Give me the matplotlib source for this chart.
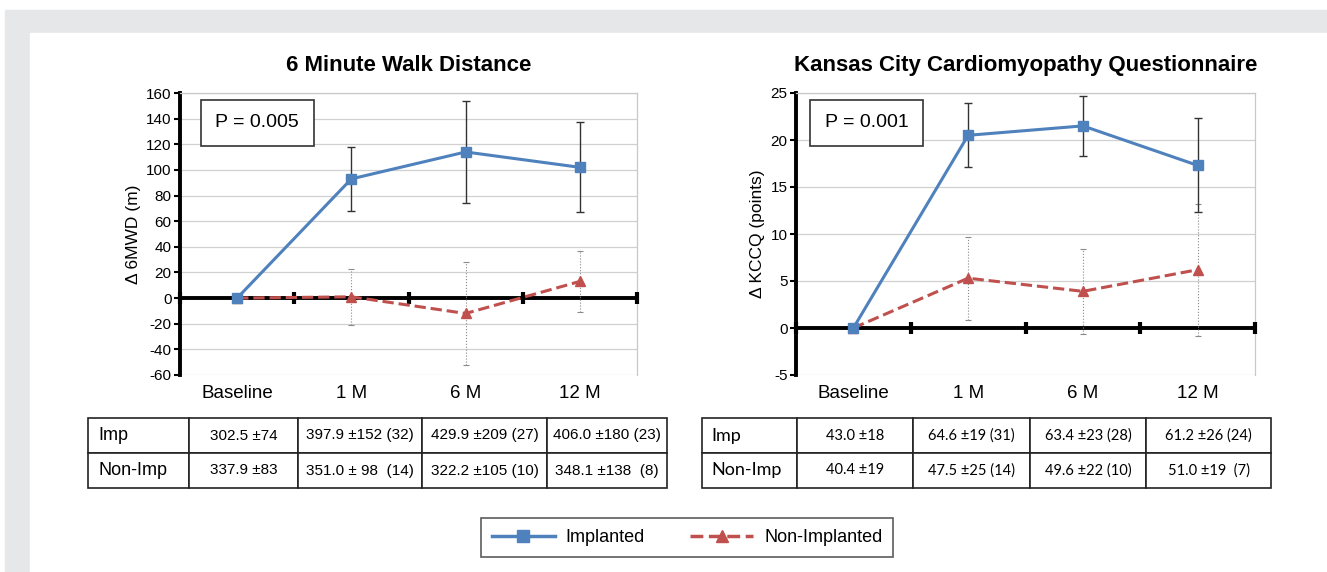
#!/usr/bin/env python3
"""Change in 6MWD and KCCQ, implanted vs non-implanted."""

import matplotlib.pyplot as plt
from matplotlib.patches import Rectangle
from matplotlib.lines import Line2D

plt.rcParams['font.family'] = ['Liberation Sans', 'DejaVu Sans']
plt.rcParams['axes.unicode_minus'] = False

# ---- data -----------------------------------------------------------------
timepoints = ["Baseline", "1 M", "6 M", "12 M"]

walk_imp = [0, 93, 114, 102]
walk_imp_err = [0, 25, 40, 35]
walk_non = [0, 1, -12, 13]
walk_non_err = [0, 22, 40, 24]

kccq_imp = [0, 20.5, 21.5, 17.3]
kccq_imp_err = [0, 3.4, 3.2, 5.0]
kccq_non = [0, 5.3, 3.9, 6.2]
kccq_non_err = [0, 4.4, 4.5, 7.0]

row_labels = ["Imp", "Non-Imp"]
walk_table = [
    ["302.5 ±74", "397.9 ±152 (32)", "429.9 ±209 (27)", "406.0 ±180 (23)"],
    ["337.9 ±83", "351.0 ± 98  (14)", "322.2 ±105 (10)", "348.1 ±138  (8)"],
]
kccq_table = [
    ["43.0 ±18", "64.6 ±19 (31)", "63.4 ±23 (28)", "61.2 ±26 (24)"],
    ["40.4 ±19", "47.5 ±25 (14)", "49.6 ±22 (10)", "51.0 ±19  (7)"],
]

BLUE = "#4f81bd"
RED = "#c0504d"
W, H = 1327, 572


def fbox(x0, y0, x1, y1):
    """pixel box (top-left origin) -> figure rect"""
    return [x0 / W, 1 - y1 / H, (x1 - x0) / W, (y1 - y0) / H]


fig = plt.figure(figsize=(W / 100, H / 100), dpi=100)

# page frame: grey bands on top and left
fig.patches.append(Rectangle((5 / W, 0), 1 - 5 / W, 1 - 10 / H,
                             transform=fig.transFigure, color="#e6e7e8", zorder=-3))
fig.patches.append(Rectangle((30 / W, 0), 1 - 30 / W, 1 - 33 / H,
                             transform=fig.transFigure, color="white", zorder=-2))


def panel(rect, title, ylabel, imp, imp_err, non, non_err, ylim, yticks, ptext, pbox):
    ax = fig.add_axes(rect)
    x = range(len(timepoints))
    ax.errorbar(x, non, yerr=non_err, color=RED, ls="--", lw=2.2, marker="^", ms=7,
                ecolor="#8a8a8a", elinewidth=0.8, capsize=2.5, capthick=0.8, zorder=4)
    for c in ax.containers[-1][2]:
        c.set_linestyle(":")
    ax.errorbar(x, imp, yerr=imp_err, color=BLUE, ls="-", lw=2.2, marker="s", ms=7,
                ecolor="#333333", elinewidth=1.0, capsize=3, capthick=1.0, zorder=5)
    ax.axhline(0, color="black", lw=2.8, zorder=3)
    ax.plot([-0.5, 0.5, 1.5, 2.5, 3.5], [0] * 5, ls="none", marker="|", ms=8,
            mew=3, color="black", zorder=3, clip_on=False)
    ax.set_xlim(-0.5, 3.5)
    ax.set_ylim(*ylim)
    ax.set_yticks(yticks)
    ax.set_xticks(list(x))
    ax.set_xticklabels(timepoints, fontsize=13.5)
    ax.tick_params(axis="x", length=0, pad=7)
    ax.tick_params(axis="y", labelsize=11, length=4, width=1.5, pad=2)
    ax.grid(axis="y", color="#d0d0d0", lw=0.9)
    ax.set_axisbelow(True)
    ax.spines["bottom"].set_visible(False)
    ax.spines["left"].set_linewidth(2.8)
    for s in ("top", "right"):
        ax.spines[s].set_color("#c8c8c8")
        ax.spines[s].set_linewidth(0.9)
    ax.set_ylabel(ylabel, fontsize=12.5, labelpad=4)
    ax.set_title(title, fontsize=16, fontweight="bold", pad=16)
    ax.text(pbox[0], pbox[1], ptext, transform=ax.transAxes, fontsize=14,
            ha="left", va="center", zorder=6,
            bbox=dict(boxstyle="square,pad=0.75", fc="white", ec="#333333", lw=1.2))
    return ax


panel(fbox(180, 93, 637, 375), "6 Minute Walk Distance", "Δ 6MWD (m)",
      walk_imp, walk_imp_err, walk_non, walk_non_err,
      (-60, 160), range(-60, 161, 20), "P = 0.005", (0.077, 0.895))
panel(fbox(796, 93, 1255, 375), "Kansas City Cardiomyopathy Questionnaire",
      "Δ KCCQ (points)", kccq_imp, kccq_imp_err, kccq_non, kccq_non_err,
      (-5, 25), range(-5, 26, 5), "P = 0.001", (0.063, 0.895))


def table(rect, rows, widths, family, numsize):
    tax = fig.add_axes(rect)
    tax.axis("off")
    cells = [[lab] + vals for lab, vals in zip(row_labels, rows)]
    tot = sum(widths)
    tb = tax.table(cellText=cells, colWidths=[w / tot for w in widths],
                   bbox=[0, 0, 1, 1], cellLoc="center")
    tb.auto_set_font_size(False)
    for (r, c), cell in tb.get_celld().items():
        cell.set_linewidth(1.2)
        cell.set_edgecolor("#222222")
        txt = cell.get_text()
        txt.set_family(family)
        if c == 0:
            txt.set_fontsize(13)
            txt.set_ha("left")
            cell.PAD = 0.1
        else:
            txt.set_fontsize(numsize)
    return tb


table(fbox(88, 418, 667, 488), walk_table, [101, 109, 124, 125, 120],
      ['Liberation Sans', 'DejaVu Sans'], 11)
table(fbox(702, 418, 1271, 488), kccq_table, [95, 116, 117, 116, 125],
      ['Lato', 'DejaVu Sans'], 10.5)

handles = [Line2D([], [], color=BLUE, lw=2.5, marker="s", ms=8),
           Line2D([], [], color=RED, lw=2.5, ls="--", marker="^", ms=8)]
leg = fig.legend(handles, ["Implanted", "Non-Implanted"], ncol=2,
                 loc="center", bbox_to_anchor=(687 / W, 1 - 537.5 / H),
                 fontsize=13, frameon=True, fancybox=False, edgecolor="#333333",
                 handlelength=3.5, columnspacing=2.5, borderpad=0.6,
                 handletextpad=0.6)
leg.get_frame().set_linewidth(1.2)

fig.savefig("out.png", dpi=100)
